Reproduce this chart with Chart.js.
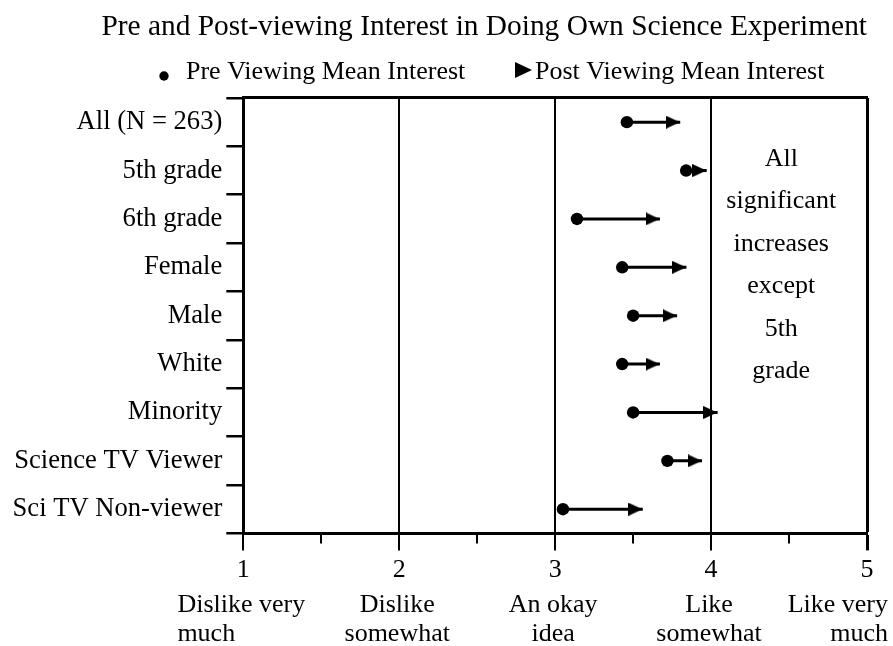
<!DOCTYPE html>
<html>
<head>
<meta charset="utf-8">
<script src="https://cdn.jsdelivr.net/npm/chart.js@4"></script>
<style>
html,body{margin:0;padding:0;background:#fff;}
#wrap{width:893px;height:646px;position:relative;}
</style>
</head>
<body>
<div id="wrap"><canvas id="c" width="893" height="646"></canvas></div>
<script>
const categories = ['All (N = 263)', '5th grade', '6th grade', 'Female', 'Male', 'White', 'Minority', 'Science TV Viewer', 'Sci TV Non-viewer'];
const preMeans  = [3.46, 3.84, 3.14, 3.43, 3.50, 3.43, 3.50, 3.72, 3.05];
const postMeans = [3.80, 3.97, 3.67, 3.84, 3.78, 3.67, 4.04, 3.94, 3.56];
const xTickValues = [1, 2, 3, 4, 5];
const xTickNumbers = ['1', '2', '3', '4', '5'];
const xTickDescriptions = [['Dislike very', 'much'], ['Dislike', 'somewhat'], ['An okay', 'idea'], ['Like', 'somewhat'], ['Like very', 'much']];
const titleText = 'Pre and Post-viewing Interest in Doing Own Science Experiment';
const legendLabels = ['Pre Viewing Mean Interest', 'Post Viewing Mean Interest'];
const noteLines = ['All', 'significant', 'increases', 'except', '5th', 'grade'];

const FAMILY = "'Liberation Serif', 'Times New Roman', serif";
Chart.defaults.font.family = FAMILY;
Chart.defaults.color = '#000';

function makeHead(len, h) {
  const c = document.createElement('canvas');
  c.width = len * 2; c.height = h;
  const g = c.getContext('2d');
  g.fillStyle = '#000';
  g.beginPath(); g.moveTo(0, 0); g.lineTo(len, h / 2); g.lineTo(0, h); g.closePath(); g.fill();
  return c;
}
const arrowHead = makeHead(14, 13);

const extras = {
  id: 'extras',
  afterDraw(chart) {
    const ctx = chart.ctx, xs = chart.scales.x, area = chart.chartArea;
    ctx.save();
    ctx.fillStyle = '#000';
    ctx.font = '26px ' + FAMILY;
    ctx.textBaseline = 'alphabetic';
    // descriptive tick labels
    const last = xTickDescriptions.length - 1;
    xTickDescriptions.forEach((lines, i) => {
      const px = xs.getPixelForValue(xTickValues[i]);
      const w = Math.max(...lines.map(l => ctx.measureText(l).width));
      let left = px - w / 2 - 2;
      left = Math.max(5, Math.min(chart.width - 5 - w, left));
      const align = i === 0 ? 'left' : (i === last ? 'right' : 'center');
      ctx.textAlign = align;
      const tx = align === 'left' ? left : (align === 'right' ? left + w : left + w / 2);
      lines.forEach((l, j) => ctx.fillText(l, tx, area.bottom + 78.5 + j * 29.5));
    });
    // note
    ctx.textAlign = 'center';
    const nx = xs.getPixelForValue(4.45);
    noteLines.forEach((l, j) => ctx.fillText(l, nx, area.top + 68 + j * 42.4));
    // legend
    ctx.textAlign = 'left';
    ctx.beginPath(); ctx.arc(164, 76, 4.7, 0, Math.PI * 2); ctx.fill();
    ctx.fillText(legendLabels[0], 186, 79);
    ctx.beginPath(); ctx.moveTo(515, 62); ctx.lineTo(532, 70); ctx.lineTo(515, 78); ctx.closePath(); ctx.fill();
    ctx.fillText(legendLabels[1], 535, 79);
    ctx.restore();
  }
};

new Chart(document.getElementById('c'), {
  type: 'bar',
  data: {
    labels: categories,
    datasets: [
      {
        type: 'line', label: legendLabels[1], data: postMeans, indexAxis: 'y',
        xAxisID: 'x', yAxisID: 'y', showLine: false, order: 1,
        pointStyle: arrowHead, pointRadius: 7, backgroundColor: '#000', borderColor: '#000', borderWidth: 0
      },
      {
        type: 'line', label: legendLabels[0], data: preMeans, indexAxis: 'y',
        xAxisID: 'x', yAxisID: 'y', showLine: false, order: 2,
        pointStyle: 'circle', pointRadius: 6.2, backgroundColor: '#000', borderColor: '#000', borderWidth: 0
      },
      {
        type: 'bar', label: 'change', data: preMeans.map((p, i) => [p, postMeans[i]]),
        xAxisID: 'x', yAxisID: 'y', order: 3,
        backgroundColor: '#000', borderWidth: 0, barThickness: 2.4
      }
    ]
  },
  options: {
    indexAxis: 'y',
    responsive: false,
    animation: false,
    events: [],
    layout: { padding: { left: 0, right: 26, top: 0, bottom: 0 } },
    plugins: {
      legend: { display: false },
      tooltip: { enabled: false },
      title: {
        display: true, text: titleText, color: '#000', align: 'end',
        font: { family: FAMILY, size: 29.4, weight: 'normal' },
        padding: { top: 9.4, bottom: 53.3 }
      }
    },
    scales: {
      x: {
        type: 'linear', position: 'bottom', min: 1, max: 5, weight: 1,
        ticks: {
          stepSize: 1, color: '#000', padding: 4, font: { family: FAMILY, size: 26 },
          callback: (v) => { const i = xTickValues.indexOf(v); return i >= 0 ? xTickNumbers[i] : ''; }
        },
        grid: {
          color: '#000', tickLength: 17, drawOnChartArea: true,
          lineWidth: (c) => (c.tick && c.tick.value === 5) ? 3 : 2
        },
        border: { display: true, color: '#000', width: 3 },
        afterFit(s) { s.height = 112.6; }
      },
      xMinor: {
        type: 'linear', position: 'bottom', min: 1, max: 5, weight: 0,
        ticks: { stepSize: 0.5, display: false },
        grid: {
          drawOnChartArea: false, tickLength: 10, lineWidth: 2,
          color: (c) => (c.tick && c.tick.value % 1 !== 0) ? '#000' : 'rgba(0,0,0,0)'
        },
        border: { display: false },
        afterFit(s) { s.height = 0; }
      },
      xTop: {
        type: 'linear', position: 'top', min: 1, max: 5,
        ticks: { display: false },
        grid: { display: false },
        border: { display: true, color: '#000', width: 3 },
        afterFit(s) { s.height = 0; }
      },
      y: {
        type: 'category', offset: true,
        grid: { offset: true, drawOnChartArea: false, color: '#000', tickLength: 17, lineWidth: 2.5 },
        border: { display: true, color: '#000', width: 3 },
        ticks: { color: '#000', padding: 4, autoSkip: false, font: { family: FAMILY, size: 26.6 } },
        afterFit(s) { s.width = 243.3; }
      }
    }
  },
  plugins: [extras]
});
</script>
</body>
</html>
